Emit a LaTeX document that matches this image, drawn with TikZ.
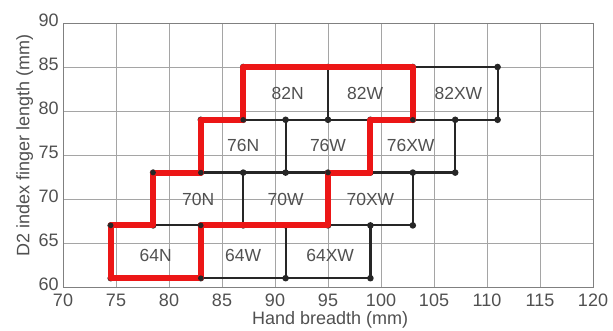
\documentclass[tikz,border=0pt]{standalone}
\usepackage{fontspec}
\setmainfont{Liberation Sans}
\usetikzlibrary{calc}
\definecolor{txtgray}{RGB}{80,80,80}
\definecolor{gridgray}{RGB}{165,165,165}
\definecolor{sizered}{RGB}{236,22,22}

\begin{document}
\begin{tikzpicture}[x=10.6pt,y=8.8pt,
  grid line/.style={gridgray,line width=0.9pt},
  size line/.style={black!85,line width=2.2pt},
  red line/.style={sizered,line width=6pt,line join=round},
  size label/.style={txtgray,font=\fontsize{17.5}{20}\selectfont,inner sep=0pt},
  tick label/.style={txtgray,font=\fontsize{18}{21}\selectfont,inner sep=0pt}]
\useasboundingbox (64.057,55.114) rectangle (121.887,92.614);
% grid
\foreach \x in {75,80,...,115}
	\draw[grid line] (\x,60) -- (\x,90);
\foreach \y in {65,70,...,85}
	\draw[grid line] (70,\y) -- (120,\y);
\draw[grid line,draw=gray] (70,60) rectangle (120,90);
\foreach \x in {70,75,...,120}
	\node[tick label] (xt\x) at (\x,58.5) {\x};
\foreach \y in {60,65,...,90}
	\node[tick label,anchor=east] (yt\y) at (69.6,\y+0.25) {\y};
\node[tick label] (xlab) at (95.2,56.25) {Hand breadth (mm)};
\node[tick label,rotate=90] (ylab) at (66.4,76.1) {D2 index finger length (mm)};
% size nodes
\coordinate (a1) at (74.5,61);
\coordinate (a2) at (83,61);
\coordinate (a3) at (91,61);
\coordinate (a4) at (99,61);
\coordinate (b1) at (74.5,67);
\coordinate (b2) at (78.5,67);
\coordinate (b3) at (83,67);
\coordinate (b4) at (87,67);
\coordinate (b5) at (91,67);
\coordinate (b6) at (95,67);
\coordinate (b7) at (99,67);
\coordinate (b8) at (103,67);
\coordinate (c1) at (78.5,73);
\coordinate (c2) at (83,73);
\coordinate (c3) at (87,73);
\coordinate (c4) at (91,73);
\coordinate (c5) at (95,73);
\coordinate (c6) at (99,73);
\coordinate (c7) at (103,73);
\coordinate (c8) at (107,73);
\coordinate (d1) at (83,79);
\coordinate (d2) at (87,79);
\coordinate (d3) at (91,79);
\coordinate (d4) at (95,79);
\coordinate (d5) at (99,79);
\coordinate (d6) at (103,79);
\coordinate (d7) at (107,79);
\coordinate (d8) at (111,79);
\coordinate (e1) at (87,85);
\coordinate (e2) at (95,85);
\coordinate (e3) at (103,85);
\coordinate (e4) at (111,85);
\draw [size line] (a1) -- (a4);
\draw [size line] (b1) -- (b8);
\draw [size line] (c1) -- (c8);
\draw [size line] (d1) -- (d8);
\draw [size line] (e1) -- (e4);
\draw [size line] (a1) -- (b1) (a2) -- (b3) (a3) -- (b5) (a4) -- (b7);
\draw [size line] (b2) -- (c1) (b4) -- (c3) (b6) -- (c5) (b8) -- (c7);
\draw [size line] (c2) -- (d1) (c4) -- (d3) (c6) -- (d5) (c8) -- (d7);
\draw [size line] (d2) -- (e1) (d4) -- (e2) (d6) -- (e3) (d8) -- (e4);
\foreach \p in {a1,a2,a3,a4,b1,b2,b3,b4,b5,b6,b7,b8,c1,c2,c3,c4,c5,c6,c7,c8,d1,d2,d3,d4,d5,d6,d7,d8,e1,e2,e3,e4}
	\fill[black!85] (\p) circle (3.3pt);
\draw [red line] (a1) -- (a2) -- (b3) -- (b6) -- (c5) -- (c6) -- (d5) -- (d6) -- (e3) -- (e1) -- (d2) -- (d1) -- (c2) -- (c1) -- (b2) -- (b1) -- cycle;
\foreach \p in {a2,b1,b3,c1,c2,c5,d2,d6}
	\fill[black!85] (\p) circle (2.8pt);
% size labels
\node[size label] (s64N) at (78.75,63.6) {64N};
\node[size label] (s64W) at (87,63.6) {64W};
\node[size label] (s64XW) at (95.2,63.6) {64XW};
\node[size label] (s70N) at (82.75,70) {70N};
\node[size label] (s70W) at (91,70) {70W};
\node[size label] (s70XW) at (99,70) {70XW};
\node[size label] (s76N) at (87,76.1) {76N};
\node[size label] (s76W) at (95,76.1) {76W};
\node[size label] (s76XW) at (102.8,76.1) {76XW};
\node[size label] (s82N) at (91.2,82) {82N};
\node[size label] (s82W) at (98.5,82) {82W};
\node[size label] (s82XW) at (107.3,82) {82XW};
\end{tikzpicture}
\end{document}
